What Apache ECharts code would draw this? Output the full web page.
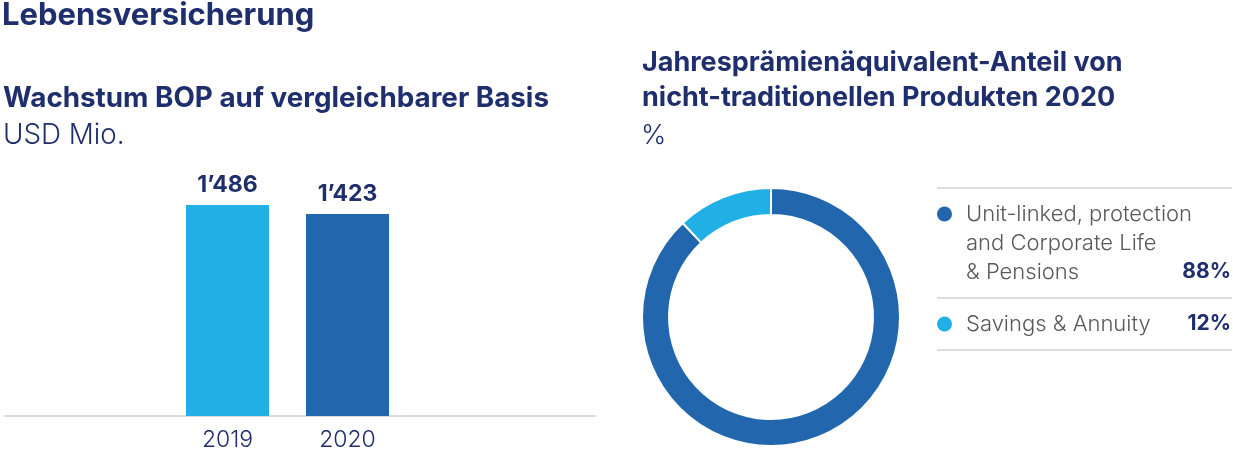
<!DOCTYPE html>
<html>
<head>
<meta charset="utf-8">
<script src="https://cdn.jsdelivr.net/npm/echarts@6/dist/echarts.min.js"></script>
<style>
html,body{margin:0;padding:0;background:#fff;}
#c{width:1233px;height:455px;}
</style>
</head>
<body>
<div id="c"></div>
<script>
// ---- data ----
const barCategories = ['2019', '2020'];
const barValues = [1486, 1423];
const pieNames = ['Unit-linked, protection\nand Corporate Life\n& Pensions', 'Savings & Annuity'];
const pieValues = [88, 12];

const NAVY = '#1f2e6c';
const DARK = '#2266ad';
const LIGHT = '#21b0e5';
const FONT = 'Inter';
const barColors = [LIGHT, DARK];
const pieColors = [DARK, LIGHT];

function fmt(v){ return String(v).replace(/\B(?=(\d{3})+(?!\d))/g, '\u2019'); }

const chart = echarts.init(document.getElementById('c'), null, {renderer:'canvas'});

// legend graphic built from pie arrays
const legendX = 937, legendW = 295, lineH = 29;
const graphics = [];
let y = 188;
graphics.push({type:'line', shape:{x1:legendX, y1:y, x2:legendX+legendW, y2:y}, style:{stroke:'#d2d2d2', lineWidth:1.5}});
pieNames.forEach((n, i) => {
  const lines = n.split('\n').length;
  const firstMid = y + 26;
  graphics.push({type:'circle', shape:{cx:legendX+7.5, cy:firstMid, r:7.5}, style:{fill:pieColors[i]}});
  graphics.push({type:'text', x:legendX+29, y:firstMid - lineH/2, style:{text:n, font:'300 22px ' + FONT, fill:'#58595b', lineHeight:lineH, verticalAlign:'top'}});
  graphics.push({type:'text', x:legendX+legendW-1, y:firstMid + (lines-1)*lineH, style:{text:pieValues[i] + '%', font:'bold 21px ' + FONT, fill:NAVY, align:'right', verticalAlign:'middle'}});
  y = firstMid + (lines-1)*lineH + 26;
  graphics.push({type:'line', shape:{x1:legendX, y1:y, x2:legendX+legendW, y2:y}, style:{stroke:'#d2d2d2', lineWidth:1.5}});
});

const option = {
  animation:false,
  textStyle:{fontFamily:FONT},
  title:[
    {text:'Lebensversicherung', left:2, top:1, padding:0, textStyle:{fontFamily:FONT, fontSize:31, lineHeight:30, fontWeight:'bold', color:NAVY}},
    {text:'Wachstum BOP auf vergleichbarer Basis', left:3, top:85, padding:0, textStyle:{fontFamily:FONT, fontSize:27.8, lineHeight:27, fontWeight:'bold', color:NAVY}},
    {text:'USD Mio.', left:3, top:122, padding:0, textStyle:{fontFamily:FONT, fontSize:27.8, lineHeight:27, fontWeight:300, color:NAVY}},
    {text:'Jahresprämienäquivalent-Anteil von\nnicht-traditionellen Produkten 2020', left:642, top:45, padding:0, textStyle:{fontFamily:FONT, fontSize:27, fontWeight:'bold', color:NAVY, lineHeight:35}},
    {text:'%', left:641, top:122, padding:0, textStyle:{fontFamily:FONT, fontSize:27, lineHeight:27, fontWeight:300, color:NAVY}}
  ],
  grid:[
    {left:167.5, width:240, top:132, bottom:39},
    {left:5, width:590, top:132, bottom:39}
  ],
  xAxis:[
    {type:'category', gridIndex:0, data:barCategories, axisLine:{show:false}, axisTick:{show:false},
     axisLabel:{fontFamily:FONT, fontSize:23, fontWeight:300, color:NAVY, margin:13}},
    {type:'category', gridIndex:1, data:[''], axisLine:{show:true, lineStyle:{color:'#d0d0d0', width:1.5}}, axisTick:{show:false}, axisLabel:{show:false}}
  ],
  yAxis:[
    {type:'value', gridIndex:0, min:0, max:2000, show:false},
    {type:'value', gridIndex:1, min:0, max:2000, show:false}
  ],
  series:[
    {type:'bar', xAxisIndex:0, yAxisIndex:0, barWidth:83,
     data:barValues.map((v,i)=>({value:v, itemStyle:{color:barColors[i]}})),
     label:{show:true, position:'top', distance:8, formatter:p=>fmt(p.value), fontFamily:FONT, fontSize:23, fontWeight:'bold', color:NAVY}},
    {type:'pie', center:[771,317], radius:[102,129], startAngle:90, clockwise:true,
     label:{show:false}, labelLine:{show:false}, silent:true,
     itemStyle:{borderColor:'#fff', borderWidth:2},
     data:pieValues.map((v,i)=>({value:v, name:pieNames[i], itemStyle:{color:pieColors[i]}}))}
  ],
  graphic:graphics
};
chart.setOption(option);
</script>
</body>
</html>
